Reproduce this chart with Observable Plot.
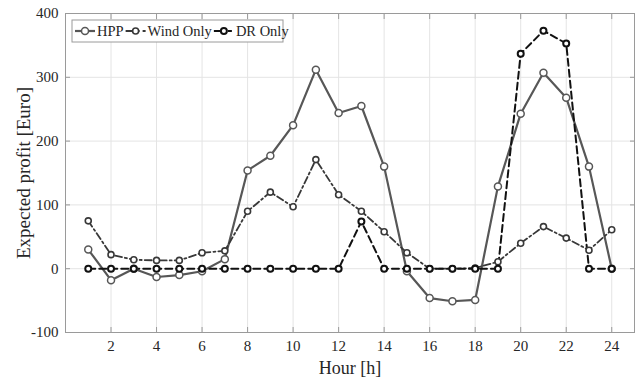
<!DOCTYPE html>
<html>
<head>
<meta charset="utf-8">
<script src="https://cdn.jsdelivr.net/npm/d3@7"></script>
<script src="https://cdn.jsdelivr.net/npm/@observablehq/plot@0.6"></script>
<style>
  body { margin: 0; background: #fff; }
  #wrap { position: relative; width: 643px; height: 383px; }
  #legend { position: absolute; left: 0; top: 0; pointer-events: none; }
  text { font-family: "Liberation Serif", "Times New Roman", serif; }
  g[aria-label="x-axis tick label"], g[aria-label="y-axis tick label"] { font-size: 15px; }
</style>
</head>
<body>
<div id="wrap"></div>
<script>
const hours = [1,2,3,4,5,6,7,8,9,10,11,12,13,14,15,16,17,18,19,20,21,22,23,24];
const hpp = [30,-18,0,-13,-10,-4,15,154,177,225,312,244,255,160,-4,-46,-51,-49,129,243,307,268,160,0];
const windOnly = [75,22,14,13,13,25,28,90,120,97,171,116,90,58,25,0,0,1,11,40,66,48,29,61];
const drOnly = [0,0,0,0,0,0,0,0,0,0,0,0,74,0,0,0,0,0,0,337,373,353,0,0];
const seriesNames = ["HPP", "Wind Only", "DR Only"];
const xTicks = [2,4,6,8,10,12,14,16,18,20,22,24];
const yTicks = [-100,0,100,200,300,400];
const xLabel = "Hour [h]";
const yLabel = "Expected profit [Euro]";

const styles = {
  "HPP": {stroke: "#575757", width: 2.2, dash: null, r: 3.5, dotWidth: 1.5},
  "Wind Only": {stroke: "#383838", width: 1.8, dash: "7,3,2,3", r: 3, dotWidth: 1.6},
  "DR Only": {stroke: "#111111", width: 2, dash: "7,4", r: 3, dotWidth: 2}
};
const valuesBySeries = {"HPP": hpp, "Wind Only": windOnly, "DR Only": drOnly};
const table = seriesNames.map(name => hours.map((h, i) => ({hour: h, value: valuesBySeries[name][i], series: name})));
const fmt = d => String(d);

const marks = [
  Plot.gridX(xTicks, {stroke: "#e4e4e4", strokeOpacity: 1}),
  Plot.gridY(yTicks, {stroke: "#e4e4e4", strokeOpacity: 1}),
  Plot.frame({stroke: "#9a9a9a"}),
  Plot.axisX(xTicks, {anchor: "bottom", tickSize: -5, tickPadding: 13, stroke: "#9a9a9a", fill: "#262626", fontSize: 15,
    tickFormat: fmt, label: null}),
  Plot.axisX(xTicks, {anchor: "top", tickSize: -5, tickFormat: () => "", stroke: "#9a9a9a", label: null}),
  Plot.axisY(yTicks, {anchor: "left", tickSize: -5, tickPadding: 12, stroke: "#9a9a9a", fill: "#262626", fontSize: 15,
    tickFormat: fmt, label: null}),
  Plot.axisY(yTicks, {anchor: "right", tickSize: -5, tickFormat: () => "", stroke: "#9a9a9a", label: null}),
  Plot.text([xLabel], {frameAnchor: "bottom", lineAnchor: "middle", textAnchor: "middle", dy: 36, fontSize: 18, fill: "#262626"}),
  Plot.text([yLabel], {frameAnchor: "left", lineAnchor: "middle", textAnchor: "middle", rotate: -90, dx: -42, fontSize: 19, fill: "#262626"})
];
for (const [k, name] of seriesNames.entries()) {
  const s = styles[name];
  marks.push(Plot.line(table[k], {x: "hour", y: "value", stroke: s.stroke, strokeWidth: s.width, strokeDasharray: s.dash}));
}
for (const [k, name] of seriesNames.entries()) {
  const s = styles[name];
  marks.push(Plot.dot(table[k], {x: "hour", y: "value", r: s.r, fill: "white", stroke: s.stroke, strokeWidth: s.dotWidth}));
}

const chart = Plot.plot({
  width: 643,
  height: 383,
  marginLeft: 65,
  marginRight: 9,
  marginTop: 13,
  marginBottom: 51,
  style: {fontFamily: '"Liberation Serif", "Times New Roman", serif', fontSize: "15px", background: "white"},
  x: {domain: [0, 25]},
  y: {domain: [-100, 400]},
  marks
});
document.getElementById("wrap").appendChild(chart);

// Legend (overlay)
const ns = "http://www.w3.org/2000/svg";
const leg = document.createElementNS(ns, "svg");
leg.setAttribute("id", "legend");
leg.setAttribute("width", 643);
leg.setAttribute("height", 383);
document.getElementById("wrap").appendChild(leg);
const box = document.createElementNS(ns, "rect");
Object.entries({x: 72, y: 20, width: 211, height: 22, fill: "white", stroke: "#9a9a9a", "stroke-width": 1}).forEach(([a, v]) => box.setAttribute(a, v));
leg.appendChild(box);
let cx = 75;
const cy = 31;
for (const name of seriesNames) {
  const s = styles[name];
  const ln = document.createElementNS(ns, "line");
  Object.entries({x1: cx, x2: cx + 20, y1: cy, y2: cy, stroke: s.stroke, "stroke-width": s.width}).forEach(([a, v]) => ln.setAttribute(a, v));
  if (s.dash) ln.setAttribute("stroke-dasharray", name === "Wind Only" ? "8,3,3,3" : "11,3,4");
  leg.appendChild(ln);
  const c = document.createElementNS(ns, "circle");
  Object.entries({cx: cx + 10, cy: cy, r: s.r, fill: "white", stroke: s.stroke, "stroke-width": s.dotWidth}).forEach(([a, v]) => c.setAttribute(a, v));
  leg.appendChild(c);
  const t = document.createElementNS(ns, "text");
  Object.entries({x: cx + 22, y: cy + 5, "font-size": 14.5, fill: "#262626"}).forEach(([a, v]) => t.setAttribute(a, v));
  t.textContent = name;
  leg.appendChild(t);
  cx += 22 + t.getComputedTextLength() + 2;
}
</script>
</body>
</html>
